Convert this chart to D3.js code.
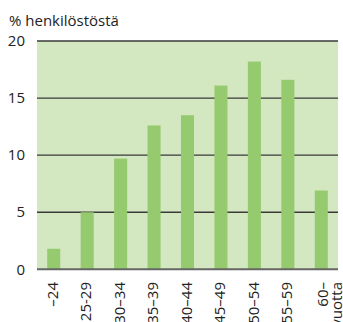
<!DOCTYPE html>
<html>
<head>
<meta charset="utf-8">
<script src="https://cdn.jsdelivr.net/npm/d3@7"></script>
<style>
  html, body { margin: 0; padding: 0; background: #fff; }
  svg { display: block; font-family: "Open Sans", "Noto Sans", sans-serif; }
</style>
</head>
<body>
<svg id="chart" width="343" height="322"></svg>
<script>
// Age groups (each label may span several lines)
const categories = [["–24"], ["25-29"], ["30–34"], ["35–39"], ["40–44"], ["45–49"], ["50–54"], ["55–59"], ["60–", "vuotta"]];
// Share of staff in each age group, %
const shares = [1.8, 5.0, 9.7, 12.6, 13.5, 16.1, 18.2, 16.6, 6.9];
const yTicks = [0, 5, 10, 15, 20];
const yTitle = "% henkilöstöstä";

const svg = d3.select("#chart");
const margin = { left: 37, right: 5, top: 41, bottom: 53 };
const W = 343, H = 322;
const plotW = W - margin.left - margin.right;
const plotH = 269.3 - margin.top;

const x = d3.scaleBand()
  .domain(d3.range(categories.length))
  .range([margin.left, margin.left + plotW])
  .paddingInner(0.61)
  .paddingOuter(0.305);

const y = d3.scaleLinear()
  .domain([0, 20])
  .range([margin.top + plotH, margin.top]);

// Plot background
svg.append("rect")
  .attr("x", margin.left).attr("y", margin.top)
  .attr("width", plotW).attr("height", plotH)
  .attr("fill", "#d3e7c1");

// Horizontal grid lines
svg.append("g")
  .selectAll("line")
  .data(yTicks.filter(t => t > 0))
  .join("line")
  .attr("x1", margin.left).attr("x2", margin.left + plotW)
  .attr("y1", d => y(d)).attr("y2", d => y(d))
  .attr("stroke", "#3a3a3a")
  .attr("stroke-width", 1.3);

// Bars
svg.append("g")
  .selectAll("rect")
  .data(shares)
  .join("rect")
  .attr("x", (d, i) => x(i))
  .attr("width", x.bandwidth())
  .attr("y", d => y(d))
  .attr("height", d => y(0) - y(d))
  .attr("fill", "#95cb6e");

// Baseline
svg.append("line")
  .attr("x1", margin.left).attr("x2", margin.left + plotW)
  .attr("y1", y(0)).attr("y2", y(0))
  .attr("stroke", "#666")
  .attr("stroke-width", 2);

// Y axis labels
svg.append("g")
  .selectAll("text")
  .data(yTicks)
  .join("text")
  .attr("x", 25)
  .attr("y", d => y(d))
  .attr("dy", "0.35em")
  .attr("text-anchor", "end")
  .attr("font-size", 15)
  .attr("fill", "#222")
  .text(d => d);

// Axis title
svg.append("text")
  .attr("x", 9).attr("y", 25.5)
  .attr("font-size", 15)
  .attr("fill", "#222")
  .text(yTitle);

// Rotated category labels
const labels = svg.append("g")
  .selectAll("text")
  .data(categories)
  .join("text")
  .attr("font-size", 15)
  .attr("fill", "#222")
  .attr("text-anchor", "end")
  .attr("transform", (d, i) => {
    const cx = x(i) + x.bandwidth() / 2;
    return d.length > 1
      ? `translate(${cx + 1.5},282) rotate(-90)`
      : `translate(${cx - 1},282) rotate(-90)`;
  });

labels.selectAll("tspan")
  .data(d => d)
  .join("tspan")
  .attr("x", 0)
  .attr("dy", (d, j) => j === 0 ? "0.35em" : "0.93em")
  .text(d => d);
</script>
</body>
</html>
